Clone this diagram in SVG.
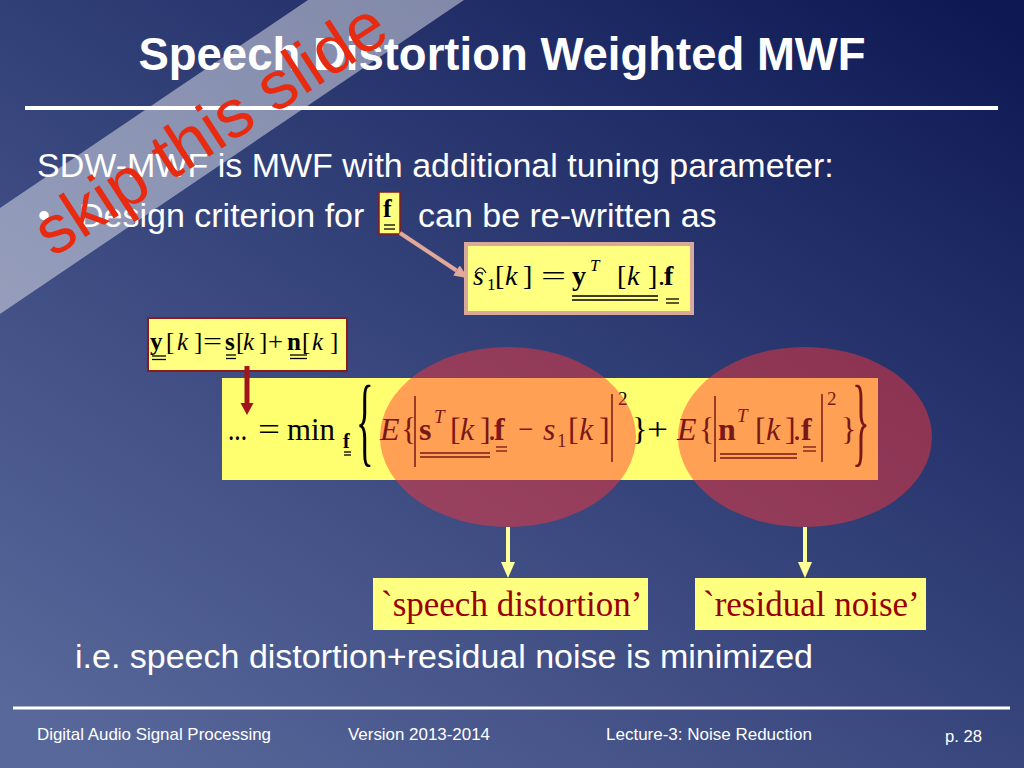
<svg xmlns="http://www.w3.org/2000/svg" width="1024" height="768" viewBox="0 0 1024 768">
<defs>
<linearGradient id="bg" x1="0.95" y1="0" x2="0.1" y2="1">
<stop offset="0" stop-color="#0e1953"/>
<stop offset="0.5" stop-color="#34427a"/>
<stop offset="1" stop-color="#59689a"/>
</linearGradient>
<marker id="ahRed" markerUnits="userSpaceOnUse" markerWidth="14" markerHeight="14" refX="0" refY="6.5" orient="auto"><path d="M0,0 L12,6.5 L0,13 z" fill="#a3141a"/></marker>
<marker id="ahYel" markerUnits="userSpaceOnUse" markerWidth="18" markerHeight="16" refX="0" refY="7" orient="auto"><path d="M0,0 L16,7 L0,14 z" fill="#ffff99"/></marker>
<marker id="ahPink" markerUnits="userSpaceOnUse" markerWidth="16" markerHeight="14" refX="0" refY="6" orient="auto"><path d="M0,0 L14,6 L0,12 z" fill="#e2a898"/></marker>
<style>
.sans{font-family:"Liberation Sans",Arial,sans-serif;fill:#ffffff}
.m{font-family:"Liberation Serif","Times New Roman",serif;fill:#000000}
.it{font-style:italic}
.b{font-weight:bold}
.ul{stroke:#000000;stroke-width:1.3}
.bar{stroke:#000000;stroke-width:1.5}
.ybox{fill:#ffff80}
.lbl{font-family:"Liberation Serif","Times New Roman",serif;fill:#990000;font-size:35px}
.ell{fill:#ff3535;fill-opacity:0.47}
.foot{font-family:"Liberation Sans",Arial,sans-serif;fill:#ffffff;font-size:17px}
</style>
</defs>

<g id="background">
<rect x="0" y="0" width="1024" height="768" fill="url(#bg)"/>
</g>

<g id="title">
<text class="sans" x="502" y="70" font-size="45.5" font-weight="bold" text-anchor="middle">Speech Distortion Weighted MWF</text>
<line x1="25" y1="108" x2="998" y2="108" stroke="#ffffff" stroke-width="4"/>
</g>

<g id="body-text">
<text class="sans" x="37" y="177" font-size="34">SDW-MWF is MWF with additional tuning parameter:</text>
<text class="sans" x="38" y="227" font-size="34">•</text>
<text class="sans" x="79" y="227" font-size="34">Design criterion for</text>
<text class="sans" x="418" y="227" font-size="34">can be re-written as</text>
<text class="sans" x="75" y="668" font-size="34">i.e. speech distortion+residual noise is minimized</text>
</g>

<g id="node-f-box">
<rect x="379" y="192" width="21" height="42" fill="#ffff80" stroke="#8b1a1a" stroke-width="1.5"/>
<text class="m b" x="383" y="217" font-size="26">f</text>
<line class="ul" x1="384" y1="225" x2="395" y2="225"/>
<line class="ul" x1="384" y1="229" x2="395" y2="229"/>
</g>

<g id="node-estimate">
<rect x="466" y="244" width="226" height="69" fill="#ffff80" stroke="#d9a99b" stroke-width="4"/>
<path d="M475,273 Q480.5,263 486,273" fill="none" stroke="#000000" stroke-width="1.2"/>
<text class="m it" x="473" y="285" font-size="28">s</text>
<text class="m" x="487" y="290" font-size="17">1</text>
<text class="m" x="495" y="285" font-size="28">[</text>
<text class="m it" x="505" y="285" font-size="28">k</text>
<text class="m" x="523" y="285" font-size="28">]</text>
<text class="m" x="541" y="285" font-size="28" textLength="25" lengthAdjust="spacingAndGlyphs">=</text>
<text class="m b" x="572" y="285" font-size="28">y</text>
<text class="m it" x="590" y="271" font-size="17">T</text>
<text class="m" x="617" y="285" font-size="28">[</text>
<text class="m it" x="627" y="285" font-size="28">k</text>
<text class="m" x="648" y="285" font-size="28">]</text>
<text class="m" x="658" y="285" font-size="28">.</text>
<text class="m b" x="664" y="285" font-size="28">f</text>
<line class="ul" x1="572" y1="296" x2="658" y2="296"/>
<line class="ul" x1="572" y1="300" x2="658" y2="300"/>
<line class="ul" x1="666" y1="299" x2="679" y2="299"/>
<line class="ul" x1="666" y1="303" x2="679" y2="303"/>
</g>

<g id="node-signal-model">
<rect x="148" y="318" width="199" height="53" fill="#ffff80" stroke="#8b1a1a" stroke-width="2"/>
<text class="m b" x="150" y="350" font-size="25">y</text>
<text class="m" x="166" y="350" font-size="25">[</text>
<text class="m it" x="177" y="350" font-size="25">k</text>
<text class="m" x="194" y="350" font-size="25">]</text>
<text class="m" x="203" y="350" font-size="25" textLength="19" lengthAdjust="spacingAndGlyphs">=</text>
<text class="m b" x="225" y="350" font-size="25">s</text>
<text class="m" x="236" y="350" font-size="25">[</text>
<text class="m it" x="243" y="350" font-size="25">k</text>
<text class="m" x="259" y="350" font-size="25">]</text>
<text class="m" x="268" y="350" font-size="25" textLength="15" lengthAdjust="spacingAndGlyphs">+</text>
<text class="m b" x="287" y="350" font-size="25">n</text>
<text class="m" x="302" y="350" font-size="25">[</text>
<text class="m it" x="312" y="350" font-size="25">k</text>
<text class="m" x="330" y="350" font-size="25">]</text>
<line class="ul" x1="152" y1="356" x2="166" y2="356"/>
<line class="ul" x1="152" y1="359.5" x2="166" y2="359.5"/>
<line class="ul" x1="226" y1="355" x2="236" y2="355"/>
<line class="ul" x1="226" y1="358.5" x2="236" y2="358.5"/>
<line class="ul" x1="290" y1="355" x2="307" y2="355"/>
<line class="ul" x1="290" y1="358.5" x2="307" y2="358.5"/>
</g>

<g id="node-criterion">
<rect x="222" y="378" width="656" height="102" fill="#ffff70"/>
<text class="m" x="228" y="440" font-size="32" textLength="19" lengthAdjust="spacingAndGlyphs">...</text>
<text class="m" x="258" y="440" font-size="32" textLength="22" lengthAdjust="spacingAndGlyphs">=</text>
<text class="m" x="287" y="440" font-size="32" textLength="48" lengthAdjust="spacingAndGlyphs">min</text>
<text class="m b" x="343" y="448" font-size="20">f</text>
<line class="ul" x1="344" y1="452" x2="351" y2="452"/>
<line class="ul" x1="344" y1="455" x2="351" y2="455"/>
<text class="m" x="0" y="0" font-size="32" transform="translate(356,454) scale(1.15,3.1)">{</text>
<text class="m it" x="380" y="440" font-size="32">E</text>
<text class="m" x="401" y="440" font-size="32">{</text>
<line class="bar" x1="415" y1="396" x2="415" y2="467"/>
<text class="m b" x="419" y="440" font-size="32">s</text>
<text class="m it" x="434" y="423" font-size="19">T</text>
<text class="m" x="450" y="440" font-size="32">[</text>
<text class="m it" x="460" y="440" font-size="32">k</text>
<text class="m" x="480" y="440" font-size="32">]</text>
<text class="m" x="488" y="440" font-size="32">.</text>
<text class="m b" x="494" y="440" font-size="32">f</text>
<line class="ul" x1="420" y1="453" x2="490" y2="453"/>
<line class="ul" x1="420" y1="457" x2="490" y2="457"/>
<line class="ul" x1="496" y1="447" x2="507" y2="447"/>
<line class="ul" x1="496" y1="451" x2="507" y2="451"/>
<text class="m" x="518" y="440" font-size="32" textLength="15" lengthAdjust="spacingAndGlyphs">−</text>
<text class="m it" x="543" y="440" font-size="32">s</text>
<text class="m" x="557" y="447" font-size="19">1</text>
<text class="m" x="568" y="440" font-size="32">[</text>
<text class="m it" x="579" y="440" font-size="32">k</text>
<text class="m" x="599" y="440" font-size="32">]</text>
<line class="bar" x1="612" y1="394" x2="612" y2="462"/>
<text class="m" x="618" y="405" font-size="19">2</text>
<text class="m" x="632" y="440" font-size="32">}</text>
<text class="m" x="647" y="440" font-size="32" textLength="21" lengthAdjust="spacingAndGlyphs">+</text>
<text class="m it" x="677" y="440" font-size="32">E</text>
<text class="m" x="699" y="440" font-size="32">{</text>
<line class="bar" x1="715" y1="396" x2="715" y2="462"/>
<text class="m b" x="718" y="440" font-size="32">n</text>
<text class="m it" x="737" y="422" font-size="19">T</text>
<text class="m" x="755" y="440" font-size="32">[</text>
<text class="m it" x="766" y="440" font-size="32">k</text>
<text class="m" x="785" y="440" font-size="32">]</text>
<text class="m" x="793" y="440" font-size="32">.</text>
<text class="m b" x="801" y="440" font-size="32">f</text>
<line class="ul" x1="720" y1="454" x2="797" y2="454"/>
<line class="ul" x1="720" y1="458" x2="797" y2="458"/>
<line class="ul" x1="803" y1="447" x2="816" y2="447"/>
<line class="ul" x1="803" y1="451" x2="816" y2="451"/>
<line class="bar" x1="822" y1="394" x2="822" y2="462"/>
<text class="m" x="827" y="405" font-size="19">2</text>
<text class="m" x="841" y="440" font-size="32">}</text>
<text class="m" x="0" y="0" font-size="32" transform="translate(852,454) scale(1.15,3.1)">}</text>
</g>

<g id="node-ellipse-speech">
<ellipse class="ell" cx="508" cy="437" rx="128" ry="90"/>
</g>
<g id="node-ellipse-noise">
<ellipse class="ell" cx="805" cy="437" rx="127" ry="90"/>
</g>

<g id="node-label-speech">
<rect class="ybox" x="373" y="578" width="275" height="52"/>
<text class="lbl" x="381" y="616">`speech distortion’</text>
</g>
<g id="node-label-noise">
<rect class="ybox" x="695" y="578" width="231" height="52"/>
<text class="lbl" x="703" y="616">`residual noise’</text>
</g>

<g id="connectors">
<line x1="400" y1="233" x2="456.5" y2="270.5" stroke="#e2a898" stroke-width="4" marker-end="url(#ahPink)"/>
<line x1="247" y1="366" x2="247" y2="403" stroke="#a3141a" stroke-width="5" marker-end="url(#ahRed)"/>
<line x1="508" y1="527" x2="508" y2="562" stroke="#ffff99" stroke-width="4" marker-end="url(#ahYel)"/>
<line x1="805" y1="527" x2="805" y2="562" stroke="#ffff99" stroke-width="4" marker-end="url(#ahYel)"/>
</g>

<g id="footer">
<line x1="13" y1="708" x2="1010" y2="708" stroke="#ffffff" stroke-width="3"/>
<text class="foot" x="37" y="740" textLength="234" lengthAdjust="spacingAndGlyphs">Digital Audio Signal Processing</text>
<text class="foot" x="348" y="740" textLength="142" lengthAdjust="spacingAndGlyphs">Version 2013-2014</text>
<text class="foot" x="606" y="740" textLength="206" lengthAdjust="spacingAndGlyphs">Lecture-3: Noise Reduction</text>
<text class="foot" x="945" y="742" textLength="37" lengthAdjust="spacingAndGlyphs">p. 28</text>
</g>

<g id="banner">
<polygon points="0,208 308,0 464,0 0,314" fill="#ffffff" fill-opacity="0.44"/>
<text x="0" y="0" transform="translate(53,258) rotate(-33)" font-family="'Liberation Sans',Arial,sans-serif" font-size="68" fill="#e82a10">skip this slide</text>
</g>
</svg>
